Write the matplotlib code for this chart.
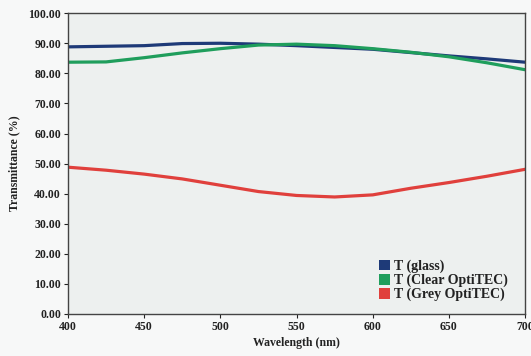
import matplotlib
matplotlib.use('Agg')
from matplotlib import pyplot as plt
from matplotlib.patches import Patch

# 读图得到的数据
wavelength = [400, 425, 450, 475, 500, 525, 550, 575, 600, 625, 650, 675, 700]
t_glass = [88.8, 89.0, 89.2, 89.9, 90.0, 89.7, 89.2, 88.6, 88.0, 86.9, 85.8, 84.8, 83.7]
t_clear = [83.7, 83.8, 85.2, 86.8, 88.2, 89.4, 89.7, 89.2, 88.2, 87.0, 85.5, 83.5, 81.2]
t_grey = [48.8, 47.8, 46.5, 44.9, 42.8, 40.7, 39.4, 38.9, 39.6, 41.8, 43.7, 45.8, 48.1]
labels = ['T (glass)', 'T (Clear OptiTEC)', 'T (Grey OptiTEC)']
colors = ['#1e3a78', '#1f9e5c', '#e0403c']

plt.rcParams['font.family'] = ['Liberation Serif', 'DejaVu Serif']
plt.rcParams['font.weight'] = 'bold'

fig = plt.figure(figsize=(5.31, 3.56), dpi=100)
fig.patch.set_facecolor('#f7f8f8')
ax = fig.add_axes([0.128, 0.118, 0.861, 0.845])
ax.set_facecolor('#edf0ef')

for y, c in zip([t_glass, t_clear, t_grey], colors):
    ax.plot(wavelength, y, color=c, lw=2.3, solid_capstyle='round', solid_joinstyle='round')

ax.set_xlim(400, 700)
ax.set_ylim(0, 100)
ax.set_xticks(range(400, 701, 50))
ax.set_yticks(range(0, 101, 10))
ax.set_yticklabels(['%.2f' % v for v in range(0, 101, 10)])
ax.tick_params(direction='out', length=3, labelsize=8.5, colors='#222222', pad=2)
for s in ax.spines.values():
    s.set_color('#444444')
    s.set_linewidth(1.0)

ax.set_xlabel('Wavelength (nm)', fontsize=8.5, fontweight='bold', color='#222222', labelpad=3)
ax.set_ylabel('Transmittance (%)', fontsize=8.5, fontweight='bold', color='#222222', labelpad=6)

handles = [Patch(facecolor=c, edgecolor='none') for c in colors]
ax.legend(handles, labels, loc='lower right', bbox_to_anchor=(0.99, 0.0), frameon=False,
          fontsize=10, handlelength=0.8, handleheight=0.8, handletextpad=0.3,
          labelspacing=0.05, borderaxespad=0.5, labelcolor='#222222')

fig.savefig('out.png', dpi=100, facecolor=fig.get_facecolor())
